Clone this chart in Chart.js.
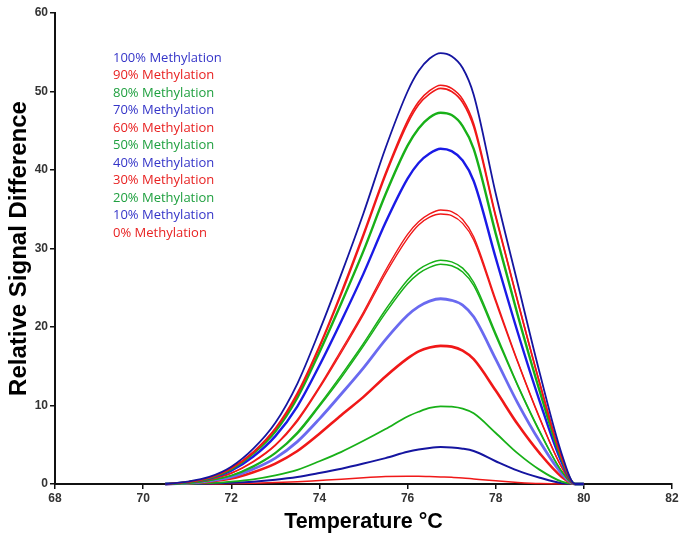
<!DOCTYPE html>
<html>
<head>
<meta charset="utf-8">
<script src="https://cdn.jsdelivr.net/npm/chart.js@4.4.1/dist/chart.umd.min.js"></script>
<style>
  html, body { margin: 0; padding: 0; background: #fff; }
  #wrap { width: 685px; height: 540px; }
</style>
</head>
<body>
<div id="wrap"><canvas id="myChart" width="685" height="540"></canvas></div>
<script>
const temps = [70.5, 71, 71.5, 72, 72.5, 73, 73.5, 74, 74.5, 75, 75.5, 76, 76.25, 76.5, 76.75, 77, 77.25, 77.5, 78, 78.5, 79, 79.5, 79.8, 80];

const m100 = [0, 0.3, 0.9, 2.2, 4.5, 7.8, 12.8, 19.5, 26.8, 34.5, 42.8, 50.0, 52.6, 54.2, 54.9, 54.5, 53.0, 49.6, 37.0, 25.5, 14.1, 3.8, 0, 0];
const m90 = [0, 0.25, 0.8, 2.0, 4.1, 7.1, 11.6, 17.6, 24.5, 31.9, 39.6, 46.3, 48.7, 50.1, 50.8, 50.4, 49.0, 45.9, 34.2, 23.3, 12.8, 3.3, 0, 0];
const m90b = [0, 0.25, 0.8, 2.0, 4.0, 7.0, 11.4, 17.4, 24.2, 31.6, 39.3, 45.9, 48.3, 49.7, 50.4, 50.0, 48.6, 45.5, 34.0, 23.2, 12.8, 3.3, 0, 0];
const m80 = [0, 0.2, 0.75, 1.9, 3.9, 6.7, 11.0, 16.8, 23.1, 29.7, 36.9, 43.1, 45.3, 46.7, 47.3, 47.0, 45.6, 42.7, 31.9, 21.5, 11.8, 3.1, 0, 0];
const m70 = [0, 0.2, 0.7, 1.7, 3.5, 6.1, 9.9, 15.1, 20.8, 26.8, 33.3, 38.9, 40.9, 42.1, 42.7, 42.4, 41.2, 38.6, 28.8, 19.3, 10.5, 2.7, 0, 0];
const m60 = [0, 0.15, 0.6, 1.4, 2.9, 5.0, 8.2, 12.4, 17.1, 21.9, 27.2, 31.8, 33.4, 34.4, 34.9, 34.7, 33.7, 31.5, 23.5, 15.6, 8.4, 2.1, 0, 0];
const m60b = [0, 0.15, 0.55, 1.35, 2.8, 4.9, 8.0, 12.2, 16.8, 21.6, 26.8, 31.3, 33.0, 34.0, 34.4, 34.2, 33.2, 31.1, 23.2, 15.5, 8.3, 2.1, 0, 0];
const m50 = [0, 0.1, 0.45, 1.1, 2.3, 4.0, 6.6, 10.1, 13.9, 17.9, 22.2, 26.0, 27.3, 28.1, 28.5, 28.3, 27.5, 25.7, 19.2, 12.6, 6.7, 1.6, 0, 0];
const m50b = [0, 0.1, 0.45, 1.05, 2.2, 3.9, 6.4, 9.9, 13.6, 17.6, 21.8, 25.5, 26.8, 27.6, 28.0, 27.8, 27.0, 25.3, 18.9, 12.5, 6.6, 1.6, 0, 0];
const m40 = [0, 0.1, 0.4, 0.9, 1.9, 3.3, 5.4, 8.3, 11.5, 14.8, 18.4, 21.5, 22.6, 23.3, 23.6, 23.4, 22.8, 21.3, 15.9, 10.3, 5.4, 1.3, 0, 0];
const m30 = [0, 0.1, 0.3, 0.7, 1.5, 2.6, 4.2, 6.4, 8.8, 11.1, 13.7, 16.0, 16.9, 17.4, 17.6, 17.5, 17.0, 15.9, 11.9, 7.6, 3.9, 0.9, 0, 0];
const m20 = [0, 0, 0.1, 0.3, 0.6, 1.1, 1.8, 2.9, 4.1, 5.5, 7.0, 8.6, 9.2, 9.7, 9.9, 9.85, 9.6, 9.0, 6.5, 3.9, 1.8, 0.3, 0, 0];
const m10 = [0, 0, 0.05, 0.15, 0.3, 0.55, 0.9, 1.4, 1.95, 2.6, 3.3, 4.1, 4.4, 4.6, 4.7, 4.65, 4.5, 4.2, 2.9, 1.7, 0.8, 0.1, 0, 0];
const m0 = [0, 0, 0, 0.05, 0.1, 0.2, 0.3, 0.45, 0.6, 0.8, 0.95, 1.0, 1.0, 0.95, 0.9, 0.85, 0.78, 0.65, 0.4, 0.2, 0.05, 0, 0, 0];

const legendNames = ["100% Methylation", "90% Methylation", "80% Methylation", "70% Methylation",
  "60% Methylation", "50% Methylation", "40% Methylation", "30% Methylation",
  "20% Methylation", "10% Methylation", "0% Methylation"];
const textColors = ["#3535c8", "#e82222", "#20a040", "#3535c8", "#e82222", "#20a040",
  "#3535c8", "#e82222", "#20a040", "#3535c8", "#e82222"];

// one entry per drawn line (some levels have two replicates)
const lineNames = ["100%", "90%", "90% b", "80%", "70%", "60%", "60% b", "50%", "50% b", "40%", "30%", "20%", "10%", "0%"];
const lineValues = [m100, m90, m90b, m80, m70, m60, m60b, m50, m50b, m40, m30, m20, m10, m0];
const lineColors = ["#1515a0", "#f01818", "#f01818", "#18b018", "#1a1ae6", "#f01818", "#f01818", "#18b018", "#18b018",
  "#6a6af0", "#f01818", "#18b018", "#1515a0", "#f01818"];
const lineWidths = [1.8, 1.6, 1.6, 2.4, 2.4, 1.4, 1.4, 1.5, 1.5, 2.8, 2.6, 1.8, 2, 1.5];

const xTicks = [68, 70, 72, 74, 76, 78, 80, 82];
const yTicks = [0, 10, 20, 30, 40, 50, 60];

const tickFont = { family: "'Liberation Sans Narrow', 'Liberation Sans', Arial", size: 12, weight: "bold" };

// colored text list in the upper left of the plot
const textLegend = {
  id: "textLegend",
  afterDraw(chart) {
    const ctx = chart.ctx;
    ctx.save();
    ctx.font = "13px 'Open Sans', 'Noto Sans', sans-serif";
    ctx.textBaseline = "middle";
    ctx.textAlign = "left";
    for (let i = 0; i < legendNames.length; i++) {
      ctx.fillStyle = textColors[i];
      ctx.fillText(legendNames[i], 113, 58 + i * 17.5);
    }
    ctx.restore();
  }
};

const datasets = lineValues.map((vals, i) => ({
  label: lineNames[i],
  data: temps.map((t, j) => ({ x: t, y: vals[j] })),
  borderColor: lineColors[i],
  borderWidth: lineWidths[i],
  pointRadius: 0,
  fill: false,
  cubicInterpolationMode: "monotone",
  clip: false
}));

const ctx = document.getElementById("myChart").getContext("2d");
const myChart = new Chart(ctx, {
  type: "line",
  data: { datasets: datasets },
  options: {
    responsive: false,
    animation: false,
    layout: { padding: { left: 5, right: 13, top: 13, bottom: 0 } },
    plugins: {
      legend: { display: false },
      tooltip: { enabled: false }
    },
    scales: {
      x: {
        type: "linear",
        min: 68,
        max: 82,
        afterBuildTicks: (scale) => { scale.ticks = xTicks.map(v => ({ value: v })); },
        afterFit: (scale) => { scale.height = 56; },
        border: { display: true, color: "#111", width: 2 },
        grid: { drawOnChartArea: false, drawTicks: true, tickLength: 5, color: "#111", lineWidth: 1.5 },
        ticks: { color: "#333", font: tickFont, padding: 2, maxRotation: 0 },
        title: { display: true, text: "Temperature °C", color: "#000",
          font: { family: "'Liberation Sans', Arial", size: 21.5, weight: "bold" }, padding: { top: 2, bottom: 5 } }
      },
      y: {
        type: "linear",
        min: 0,
        max: 60,
        afterBuildTicks: (scale) => { scale.ticks = yTicks.map(v => ({ value: v })); },
        afterFit: (scale) => { scale.width = 50; },
        border: { display: true, color: "#111", width: 2 },
        grid: { drawOnChartArea: false, drawTicks: true, tickLength: 5, color: "#111", lineWidth: 1.5 },
        ticks: { color: "#333", font: tickFont, padding: 2 },
        title: { display: true, text: "Relative Signal Difference", color: "#000",
          font: { family: "'Liberation Sans', Arial", size: 24, weight: "bold" }, padding: { top: 0, bottom: 2 } }
      }
    }
  },
  plugins: [textLegend]
});
</script>
</body>
</html>
